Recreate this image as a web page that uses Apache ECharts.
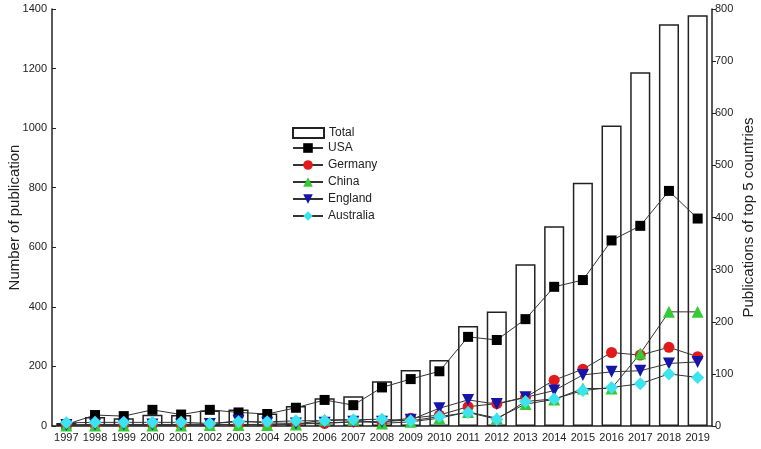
<!DOCTYPE html>
<html>
<head>
<meta charset="utf-8">
<script src="https://cdn.jsdelivr.net/npm/echarts@6/dist/echarts.min.js"></script>
<style>
html,body{margin:0;padding:0;background:#fff;}
#c{width:761px;height:449px;}
</style>
</head>
<body>
<div id="c"></div>
<script>
const years = ['1997','1998','1999','2000','2001','2002','2003','2004','2005','2006','2007','2008','2009','2010','2011','2012','2013','2014','2015','2016','2017','2018','2019'];
const total = [10,30,26,38,37,52,55,42,67,93,100,150,188,222,336,384,543,671,817,1009,1188,1349,1379];
const usa = [3,21,19,31,22,31,26,23,35,50,40,74,90,105,171,165,205,267,280,356,384,451,398];
const germany = [2,2,2,3,2,3,3,3,4,5,8,8,15,21,37,43,55,88,109,141,136,151,133];
const china = [1,1,1,1,1,2,2,2,3,12,12,5,8,15,27,15,42,51,72,72,139,219,219];
const england = [2,3,3,3,3,4,10,6,5,6,8,8,12,34,50,42,55,68,98,104,106,120,123];
const australia = [6,7,7,7,7,5,8,8,10,10,12,13,10,18,26,13,47,52,68,74,81,100,93];
const leftTicks = {min:0, max:1400, interval:200};
const rightTicks = {min:0, max:800, interval:100};

const FONT = 'Liberation Sans, Arial, sans-serif';
const chart = echarts.init(document.getElementById('c'));
const lineCommon = {
  type:'line', yAxisIndex:1, z:3,
  lineStyle:{color:'#333', width:1},
  emphasis:{disabled:true}
};
const plain = v => String(v);
chart.setOption({
  animation:false,
  textStyle:{fontFamily:FONT},
  grid:{left:52, right:49, top:9, bottom:23, containLabel:false, outerBoundsMode:'none'},
  legend:[
    {data:[{name:'Total', icon:'rect'}], left:292, top:127, padding:0, itemWidth:31, itemHeight:10,
     textStyle:{fontSize:12, color:'#222', fontFamily:FONT}, selectedMode:false},
    {data:['USA','Germany','China','England','Australia'], orient:'vertical', left:292, top:142, padding:0,
     itemWidth:30, itemHeight:12, itemGap:5,
     textStyle:{fontSize:12, color:'#222', fontFamily:FONT}, selectedMode:false}
  ],
  xAxis:{
    type:'category', data:years, boundaryGap:true,
    axisLine:{lineStyle:{color:'#222', width:1.5}},
    axisTick:{show:false},
    axisLabel:{fontSize:11, color:'#222', margin:6, interval:0, fontFamily:FONT}
  },
  yAxis:[
    {type:'value', min:leftTicks.min, max:leftTicks.max, interval:leftTicks.interval,
     position:'left', name:'Number of publication', nameLocation:'middle', nameRotate:90, nameGap:30,
     nameMoveOverlap:false,
     nameTextStyle:{fontSize:15, color:'#222', fontFamily:FONT},
     axisLine:{show:true, lineStyle:{color:'#222', width:1.5}},
     axisTick:{show:true, inside:true, length:4, lineStyle:{color:'#222'}},
     axisLabel:{fontSize:11, color:'#222', margin:5, fontFamily:FONT, formatter:plain},
     splitLine:{show:false}},
    {type:'value', min:rightTicks.min, max:rightTicks.max, interval:rightTicks.interval,
     position:'right', name:'Publications of top 5 countries', nameLocation:'middle', nameRotate:90, nameGap:29,
     nameMoveOverlap:false,
     nameTextStyle:{fontSize:15, color:'#222', fontFamily:FONT},
     axisLine:{show:true, lineStyle:{color:'#222', width:1.5}},
     axisTick:{show:true, inside:false, length:4, lineStyle:{color:'#222'}},
     axisLabel:{fontSize:11, color:'#222', margin:3, fontFamily:FONT, formatter:plain},
     splitLine:{show:false}}
  ],
  series:[
    {name:'Total', type:'bar', yAxisIndex:0, data:total, barWidth:'70%', z:1,
     itemStyle:{color:'#fff', borderColor:'#222', borderWidth:1.5}, emphasis:{disabled:true}},
    Object.assign({}, lineCommon, {name:'USA', data:usa, symbol:'rect', symbolSize:10,
      itemStyle:{color:'#000'}}),
    Object.assign({}, lineCommon, {name:'Germany', data:germany, symbol:'circle', symbolSize:11,
      itemStyle:{color:'#e31a1c'}}),
    Object.assign({}, lineCommon, {name:'China', data:china, symbol:'triangle', symbolSize:12,
      itemStyle:{color:'#33cc33'}}),
    Object.assign({}, lineCommon, {name:'England', data:england, symbol:'triangle', symbolRotate:180, symbolSize:12,
      itemStyle:{color:'#1515a8'}}),
    Object.assign({}, lineCommon, {name:'Australia', data:australia, symbol:'diamond', symbolSize:13,
      itemStyle:{color:'#3de3ee'}})
  ]
});
</script>
</body>
</html>
